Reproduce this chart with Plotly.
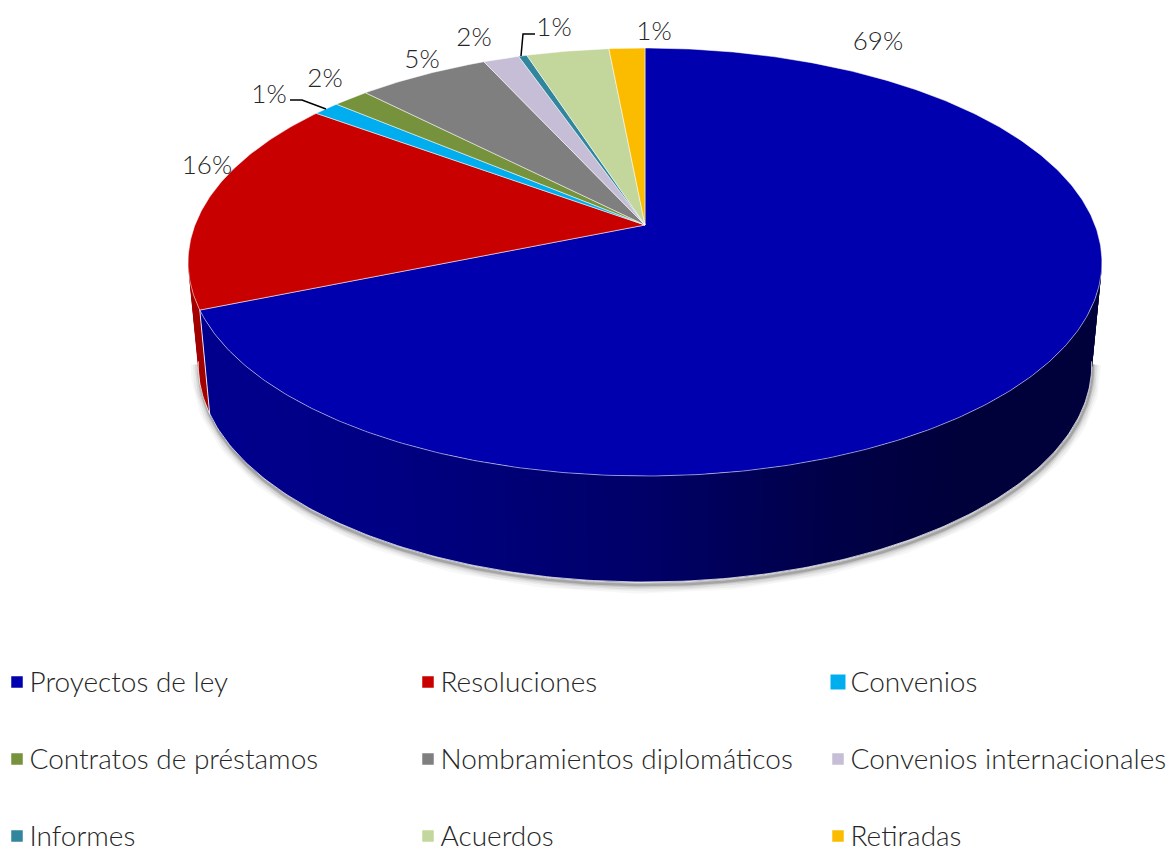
import numpy as np
import plotly.graph_objects as go

categories = ["Proyectos de ley", "Resoluciones", "Convenios", "Contratos de préstamos",
              "Nombramientos diplomáticos", "Convenios internacionales", "Informes", "Acuerdos", "Retiradas"]
values = [68.75, 16.35, 1.1, 1.5, 5.5, 1.5, 0.35, 3.45, 1.5]
labels = ["69%", "16%", "1%", "2%", "5%", "2%", "1%", "", "1%"]
colors = ["#0000AE", "#C80000", "#00AEEF", "#76923C", "#7F7F7F", "#C6BDD6", "#31859C", "#C3D69B", "#FBBC00"]
label_x = [878, 207, 269, 325, 422, 474, 554, 0, 654]
label_y = [43, 167, 96, 80, 61, 39, 29, 0, 33]

FONT = "Lato"
K = 0.1729

def top(t):
    u, v = np.sin(t), -np.cos(t)
    d = 1 - K * v
    return 645 + 450 * u / d, 225 + 207.6 * v / d

def bot(t):
    u, v = np.sin(t), -np.cos(t)
    d = 1 - K * v
    return 645 + 440 * u / d, 327.5 + 210.5 * v / d

def side_color(x, base):
    # horizontal shading: lighter at the left, darkest at the right
    f = np.clip((x - 190) / 910, 0, 1)
    mult = np.interp(f, [0, .2, .5, .7, .85, 1], [.82, .76, .6, .42, .34, .34])
    c = [int(int(base[i:i + 2], 16) * mult) for i in (1, 3, 5)]
    return f"rgb({c[0]},{c[1]},{c[2]})"

fig = go.Figure()

edges = np.concatenate([[0], np.cumsum(values)]) / sum(values) * 2 * np.pi
R0, R1 = np.radians(99), np.radians(261)

# soft shadow beneath the body (runs a little way up both silhouette edges)
ts = np.linspace(R0, R1, 220)
bx, by = bot(ts)
for w, a in [(17, .03), (13, .045), (9, .07), (5, .1), (2.5, .16)]:
    fig.add_trace(go.Scatter(x=bx + 1, y=by + 3, mode="lines",
                             line=dict(color=f"rgba(0,0,0,{a})", width=w),
                             hoverinfo="skip", showlegend=False))

# side wall: each strip overlaps the following one so no seams show
def wall(t0, t1, base, n, backwards=False):
    g = np.linspace(t0, t1, n + 1)
    idx = range(n - 1, -1, -1) if backwards else range(n)
    for i in idx:
        a = g[i]
        b = g[min(i + 1, n)]
        if backwards:
            a = g[max(i - 1, 0)]
        else:
            b = g[min(i + 2, n)]
        s = np.linspace(a, b, 5)
        tx, ty = top(s); qx, qy = bot(s[::-1])
        col = side_color(float(top(np.array([(g[i] + g[i + 1]) / 2]))[0][0]), base)
        fig.add_trace(go.Scatter(x=np.r_[tx, qx], y=np.r_[ty, qy], mode="lines", fill="toself", fillcolor=col,
                                 line=dict(color=col, width=0), hoverinfo="skip", showlegend=False))

wall(edges[1], R1 + 0.02, colors[1], 6)
wall(R0, edges[1], colors[0], 150, backwards=True)

# light rims of the body
rt = np.linspace(R0, R1, 220)
x0, y0 = bot(rt)
fig.add_trace(go.Scatter(x=x0, y=y0, mode="lines", line=dict(color="rgba(255,255,255,.75)", width=1),
                         hoverinfo="skip", showlegend=False))
ex, ey = top(np.array([edges[1]])), bot(np.array([edges[1]]))
fig.add_trace(go.Scatter(x=[ex[0][0], ey[0][0]], y=[ex[1][0], ey[1][0]], mode="lines",
                         line=dict(color="rgba(255,255,255,.85)", width=1), hoverinfo="skip", showlegend=False))

# top face
for i, c in enumerate(colors):
    s = np.linspace(edges[i], edges[i + 1], max(4, int(values[i] * 6)))
    px, py = top(s)
    fig.add_trace(go.Scatter(x=np.r_[645, px, 645], y=np.r_[225, py, 225], mode="lines", fill="toself", fillcolor=c,
                             line=dict(color="rgba(255,255,255,.65)", width=0.8), hoverinfo="skip", showlegend=False))

# leader lines
for xs, ys in [([290, 302, 326], [100, 100, 109]), ([535, 523, 521], [34, 34, 56])]:
    fig.add_trace(go.Scatter(x=xs, y=ys, mode="lines", line=dict(color="#000000", width=1.5),
                             hoverinfo="skip", showlegend=False))

# data labels
kept = [i for i, l in enumerate(labels) if l]
fig.add_trace(go.Scatter(x=[label_x[i] for i in kept], y=[label_y[i] for i in kept], mode="text",
                         text=[labels[i] for i in kept], textposition="middle center",
                         textfont=dict(family=FONT, size=26, color="#262626", weight=300),
                         hoverinfo="skip", showlegend=False))

# legend grid
col_x = [17, 428, 838]
row_y = [682, 759, 836]
for i, (name, c) in enumerate(zip(categories, colors)):
    mx, my = col_x[i % 3], row_y[i // 3]
    fig.add_trace(go.Scatter(x=[mx], y=[my], mode="markers",
                             marker=dict(symbol="square", size=15 if i == 2 else 11.5, color=c),
                             hoverinfo="skip", showlegend=False))
    fig.add_trace(go.Scatter(x=[mx + 12.5], y=[my + 2.5], mode="text", text=[name], textposition="middle right",
                             textfont=dict(family=FONT, size=28, color="#262626", weight=300),
                             hoverinfo="skip", showlegend=False, cliponaxis=False))

fig.update_layout(width=1170, height=850, margin=dict(l=0, r=0, t=0, b=0),
                  paper_bgcolor="white", plot_bgcolor="white",
                  xaxis=dict(range=[0, 1170], visible=False, fixedrange=True),
                  yaxis=dict(range=[850, 0], visible=False, fixedrange=True))
fig.write_html("out.html", config={"displayModeBar": False},
               post_script="document.body.style.margin='0';document.documentElement.style.overflow='hidden';")
